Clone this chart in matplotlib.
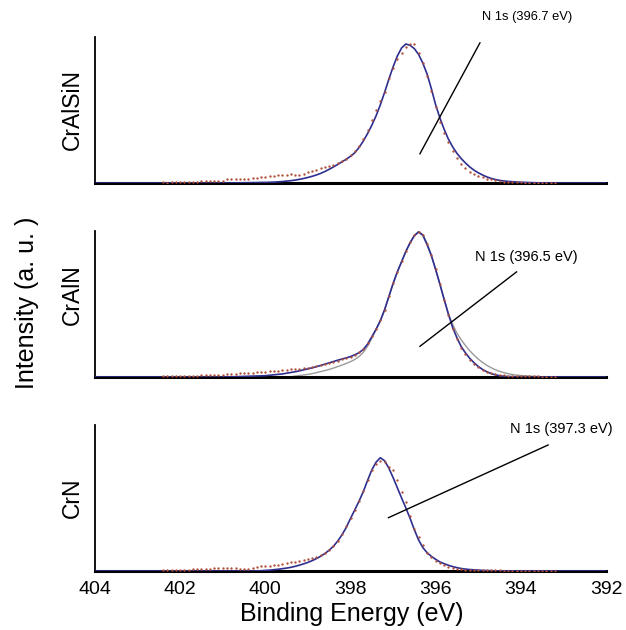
import numpy as np
import matplotlib
matplotlib.use("Agg")
import matplotlib.pyplot as plt

plt.rcParams['font.family'] = ['Liberation Sans', 'DejaVu Sans']

# ---------------- data ----------------
samples = ["CrAlSiN", "CrAlN", "CrN"]
peak_labels = ["N 1s (396.7 eV)", "N 1s (396.5 eV)", "N 1s (397.3 eV)"]
xticks = [404, 402, 400, 398, 396, 394, 392]

# measured data, binding energy grid 402.4 -> 393.2 eV, 0.1 eV step
data_start, data_step = 402.4, -0.1
data_cralsin = [0.004, 0.003, 0.005, 0.004, 0.006, 0.005, 0.008, 0.007, 0.010, 0.012,
                 0.011, 0.014, 0.013, 0.012, 0.015, 0.024, 0.026, 0.027, 0.026, 0.028,
                 0.030, 0.031, 0.034, 0.038, 0.040, 0.045, 0.047, 0.052, 0.055, 0.054,
                 0.060, 0.058, 0.055, 0.065, 0.075, 0.085, 0.092, 0.100, 0.108, 0.115,
                 0.123, 0.135, 0.148, 0.165, 0.190, 0.220, 0.255, 0.300, 0.360, 0.430,
                 0.500, 0.560, 0.620, 0.720, 0.790, 0.850, 0.890, 0.930, 0.950, 0.950,
                 0.890, 0.820, 0.730, 0.630, 0.520, 0.420, 0.340, 0.280, 0.220, 0.170,
                 0.130, 0.100, 0.075, 0.060, 0.048, 0.040, 0.030, 0.024, 0.018, 0.014,
                 0.010, 0.008, 0.006, 0.005, 0.004, 0.003, 0.003, 0.002, 0.002, 0.001,
                 0.001, 0.001, 0.001]
data_craln = [0.006, 0.005, 0.006, 0.005, 0.006, 0.007, 0.008, 0.009, 0.010, 0.011,
              0.012, 0.014, 0.015, 0.016, 0.017, 0.018, 0.019, 0.022, 0.024, 0.027,
              0.028, 0.030, 0.032, 0.034, 0.036, 0.038, 0.041, 0.044, 0.046, 0.049,
              0.052, 0.055, 0.058, 0.061, 0.064, 0.068, 0.072, 0.079, 0.087, 0.095,
              0.104, 0.112, 0.120, 0.130, 0.140, 0.152, 0.168, 0.190, 0.230, 0.280,
              0.330, 0.388, 0.462, 0.552, 0.642, 0.722, 0.792, 0.862, 0.922, 0.970,
              0.990, 0.975, 0.910, 0.835, 0.738, 0.637, 0.530, 0.425, 0.330, 0.262,
              0.200, 0.155, 0.118, 0.090, 0.066, 0.050, 0.037, 0.026, 0.020, 0.015,
              0.012, 0.010, 0.008, 0.007, 0.006, 0.005, 0.005, 0.004, 0.004, 0.003,
              0.003, 0.003, 0.002]
data_crn = [0.008, 0.006, 0.005, 0.006, 0.007, 0.008, 0.009, 0.011, 0.013, 0.015,
            0.016, 0.017, 0.019, 0.020, 0.021, 0.022, 0.020, 0.018, 0.016, 0.015,
            0.014, 0.020, 0.030, 0.033, 0.034, 0.036, 0.038, 0.042, 0.050, 0.057,
            0.060, 0.065, 0.070, 0.075, 0.080, 0.088, 0.098, 0.112, 0.126, 0.145,
            0.170, 0.205, 0.255, 0.310, 0.365, 0.420, 0.480, 0.545, 0.620, 0.690,
            0.730, 0.755, 0.750, 0.715, 0.690, 0.620, 0.540, 0.470, 0.380, 0.290,
            0.235, 0.180, 0.125, 0.095, 0.068, 0.052, 0.040, 0.028, 0.019, 0.014,
            0.011, 0.009, 0.008, 0.007, 0.006, 0.005, 0.005, 0.004, 0.004, 0.004,
            0.003, 0.003, 0.003, 0.003, 0.002, 0.002, 0.002, 0.002, 0.002, 0.002,
            0.002, 0.002, 0.002]

# fitted curves, binding energy grid 401.0 -> 393.0 eV, 0.1 eV step
fit_start, fit_step = 401.0, -0.1
fit_cralsin = [0.000, 0.000, 0.001, 0.001, 0.001, 0.002, 0.002, 0.003, 0.003, 0.004,
               0.004, 0.005, 0.006, 0.008, 0.010, 0.013, 0.016, 0.020, 0.025, 0.031,
               0.038, 0.046, 0.055, 0.066, 0.079, 0.094, 0.110, 0.127, 0.145, 0.163,
               0.183, 0.207, 0.243, 0.287, 0.338, 0.395, 0.460, 0.535, 0.620, 0.710,
               0.795, 0.870, 0.925, 0.952, 0.943, 0.920, 0.880, 0.820, 0.745, 0.645,
               0.535, 0.445, 0.367, 0.300, 0.247, 0.203, 0.167, 0.137, 0.110, 0.088,
               0.070, 0.055, 0.042, 0.032, 0.024, 0.018, 0.014, 0.011, 0.009, 0.007,
               0.005, 0.004, 0.003, 0.002, 0.001, 0.001, 0.000, 0.000, 0.000, 0.000,
               0.000]
fit_craln = [0.000, 0.001, 0.001, 0.002, 0.003, 0.004, 0.005, 0.006, 0.007, 0.008,
             0.009, 0.012, 0.015, 0.018, 0.021, 0.026, 0.031, 0.036, 0.042, 0.049,
             0.056, 0.063, 0.071, 0.079, 0.088, 0.097, 0.106, 0.115, 0.123, 0.131,
             0.140, 0.152, 0.166, 0.188, 0.225, 0.275, 0.327, 0.385, 0.460, 0.550,
             0.640, 0.720, 0.790, 0.860, 0.920, 0.968, 0.993, 0.970, 0.905, 0.830,
             0.735, 0.635, 0.530, 0.430, 0.338, 0.268, 0.208, 0.165, 0.128, 0.098,
             0.072, 0.052, 0.036, 0.024, 0.015, 0.009, 0.005, 0.003, 0.002, 0.001,
             0.000, 0.000, 0.000, 0.000, 0.000, 0.000, 0.000, 0.000, 0.000, 0.000,
             0.000]
# main N 1s component of CrAlN (grey)
comp_craln = [0.000, 0.000, 0.000, 0.000, 0.000, 0.000, 0.000, 0.000, 0.000, 0.000,
              0.000, 0.000, 0.000, 0.000, 0.000, 0.000, 0.002, 0.006, 0.010, 0.014,
              0.018, 0.023, 0.030, 0.037, 0.044, 0.052, 0.061, 0.071, 0.082, 0.093,
              0.105, 0.120, 0.140, 0.168, 0.210, 0.265, 0.325, 0.385, 0.460, 0.550,
              0.640, 0.720, 0.790, 0.860, 0.920, 0.970, 0.997, 0.975, 0.915, 0.835,
              0.738, 0.637, 0.532, 0.432, 0.360, 0.300, 0.255, 0.215, 0.180, 0.150,
              0.123, 0.100, 0.080, 0.064, 0.050, 0.039, 0.030, 0.023, 0.017, 0.013,
              0.010, 0.008, 0.006, 0.004, 0.003, 0.002, 0.001, 0.001, 0.000, 0.000,
              0.000]
fit_crn = [0.000, 0.000, 0.000, 0.000, 0.000, 0.000, 0.000, 0.000, 0.001, 0.002,
           0.004, 0.006, 0.009, 0.012, 0.016, 0.020, 0.025, 0.032, 0.040, 0.049,
           0.059, 0.071, 0.085, 0.101, 0.120, 0.143, 0.170, 0.205, 0.248, 0.298,
           0.360, 0.418, 0.478, 0.543, 0.620, 0.692, 0.745, 0.776, 0.755, 0.705,
           0.640, 0.570, 0.500, 0.432, 0.360, 0.282, 0.212, 0.160, 0.125, 0.100,
           0.080, 0.062, 0.050, 0.039, 0.030, 0.023, 0.017, 0.013, 0.010, 0.008,
           0.006, 0.004, 0.003, 0.002, 0.001, 0.001, 0.000, 0.000, 0.000, 0.000,
           0.000, 0.000, 0.000, 0.000, 0.000, 0.000, 0.000, 0.000, 0.000, 0.000,
           0.000]

# annotation anchors (energy, intensity): leader line start/end, text position
ann_line = [((396.37, 0.20), (394.96, 0.96)),
            ((396.37, 0.21), (394.10, 0.72)),
            ((397.11, 0.365), (393.36, 0.863))]
ann_text = [(393.86, 1.14), (393.86, 0.825), (393.04, 0.975)]
ann_size = [9.3, 10.5, 10.5]

# ---------------- figure ----------------
W, H = 626, 630
fig = plt.figure(figsize=(W / 100, H / 100), dpi=100)

left_px, right_px = 95, 606
tops = [37, 231, 425]
ax_h = 146

blue = "#2e2e8f"
dot_col = "#b0503a"
grey = "#9a9a9a"

data_sets = [data_cralsin, data_craln, data_crn]
fit_sets = [fit_cralsin, fit_craln, fit_crn]


def with_baseline(vals):
    e = np.round(fit_start + fit_step * np.arange(len(vals)), 1)
    return np.concatenate([[404.0], e, [392.0]]), np.concatenate([[0.0], vals, [0.0]])


for k in range(3):
    b = 1 - (tops[k] + ax_h) / H
    ax = fig.add_axes([left_px / W, b, (right_px - left_px) / W, ax_h / H])
    vals = data_sets[k]
    e = np.round(data_start + data_step * np.arange(len(vals)), 1)
    if k == 1:
        ge, gi = with_baseline(comp_craln)
        ax.plot(ge, gi, color=grey, lw=1.0, zorder=2)
    fe, fi = with_baseline(fit_sets[k])
    ax.plot(fe, fi, color=blue, lw=1.2, zorder=3)
    ax.plot(e, vals, linestyle="none", marker="o", ms=1.7, mew=0,
            color=dot_col, zorder=4)
    (x0, y0), (x1, y1) = ann_line[k]
    ax.plot([x0, x1], [y0, y1], color="black", lw=1.0, zorder=5)
    ax.text(ann_text[k][0], ann_text[k][1], peak_labels[k], ha="center", va="center",
            fontsize=ann_size[k], clip_on=False)
    ax.set_xlim(404, 392)
    ax.set_ylim(0, 1)
    for s in ["top", "right"]:
        ax.spines[s].set_visible(False)
    ax.spines["left"].set_linewidth(1.3)
    ax.spines["bottom"].set_linewidth(2.2)
    ax.set_yticks([])
    ax.set_xticks(xticks)
    ax.tick_params(axis="x", length=0, pad=7, labelsize=14)
    if k < 2:
        ax.set_xticklabels([])
    fig.text(72 / W, 1 - (tops[k] + ax_h / 2 - (9 if k == 1 else 0)) / H, samples[k],
             rotation=90, ha="center", va="center", fontsize=16.5)

fig.text(27 / W, 1 - 303 / H, "Intensity (a. u. )", rotation=90, ha="center",
         va="center", fontsize=18)
fig.text(352 / W, 1 - 614 / H, "Binding Energy (eV)", ha="center", va="center",
         fontsize=18)

fig.savefig("out.png", dpi=100)
